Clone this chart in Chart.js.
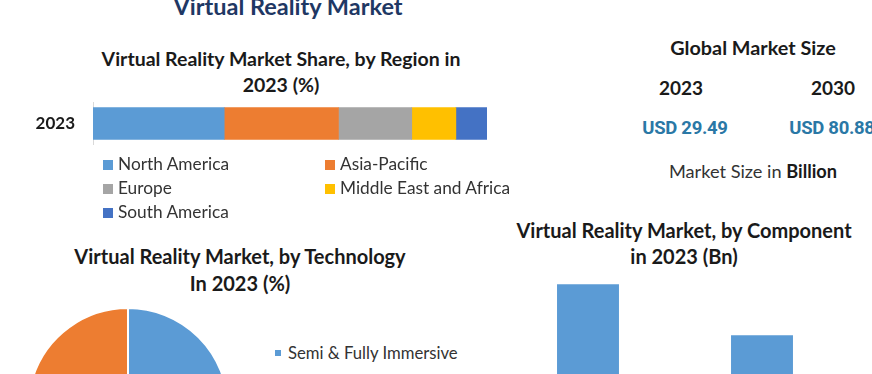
<!DOCTYPE html>
<html>
<head>
<meta charset="utf-8">
<script src="https://cdn.jsdelivr.net/npm/chart.js@4/dist/chart.umd.min.js"></script>
<style>
  html, body { margin: 0; padding: 0; background: #fff; }
  #page { position: relative; width: 872px; height: 374px; overflow: hidden; background: #fff; font-family: Lato, "Open Sans", sans-serif; color: #1a1a1a; }
  .abs { position: absolute; }
  .t { position: absolute; white-space: nowrap; text-align: center; font-weight: bold; }
  .leg { position: absolute; white-space: nowrap; font-size: 17.3px; color: #333; }
  .leg .sw { display: inline-block; width: 10px; height: 10px; margin-right: 5px; }
  .usd { position: absolute; white-space: nowrap; font-family: "Liberation Sans Narrow", "Roboto", sans-serif; font-weight: bold; color: #2a78a6; font-size: 18.5px; letter-spacing: -0.3px; }
</style>
</head>
<body>
<div id="page">
  <div class="t" id="mainTitle" style="left:0; width:576px; top:-8px; font-size:23.5px; color:#1f3864;"></div>
  <div class="t" style="left:81px; width:400px; top:46px; font-size:19.5px; line-height:26px;" id="regionTitle"></div>

  <canvas id="regionChart" class="abs" width="487" height="83" style="left:0; top:82px; width:487px; height:83px;"></canvas>
  <div id="regionLegend"></div>

  <div class="t" style="left:603px; width:300px; top:35px; font-size:19.8px;" id="gmsTitle"></div>
  <div id="gmsYears"></div>
  <div class="abs" style="left:603px; width:300px; top:160px; text-align:center; font-size:18.2px; white-space:nowrap; color:#333;">Market Size in <b style="color:#1a1a1a">Billion</b></div>

  <div class="t" style="left:40px; width:400px; top:243px; font-size:20px; line-height:27px;" id="techTitle"></div>
  <canvas id="techChart" class="abs" width="202" height="202" style="left:27px; top:307px; width:202px; height:202px;"></canvas>
  <div id="techLegend"></div>

  <div class="t" style="left:484px; width:400px; top:217px; font-size:20px; line-height:26px;" id="compTitle"></div>
  <canvas id="compChart" class="abs" width="348" height="167" style="left:501px; top:266px; width:348px; height:167px;"></canvas>
</div>
<script>
// ---------- data ----------
const regionYears = ['2023'];
const regionNames = ['North America', 'Asia-Pacific', 'Europe', 'Middle East and Africa', 'South America'];
const regionShares = [33.3, 29.0, 18.6, 11.2, 7.9];
const regionColors = ['#5b9bd5', '#ed7d31', '#a5a5a5', '#ffc000', '#4472c4'];

const marketYears = ['2023', '2030'];
const marketSizes = ['USD 29.49', 'USD 80.88'];

const techNames = ['Semi & Fully Immersive', 'Non-Immersive'];
const techShares = [60, 40];
const techColors = ['#5b9bd5', '#ed7d31'];

const compNames = ['Hardware', 'Software'];
const compValues = [17.8, 11.7];

// ---------- text ----------
document.getElementById('mainTitle').textContent = 'Virtual Reality Market';
document.getElementById('regionTitle').innerHTML = 'Virtual Reality Market Share, by Region in<br>2023 (%)';
document.getElementById('gmsTitle').textContent = 'Global Market Size';
document.getElementById('techTitle').innerHTML = 'Virtual Reality Market, by Technology<br>In 2023 (%)';
document.getElementById('compTitle').innerHTML = 'Virtual Reality Market, by Component<br>in 2023 (Bn)';

const page = document.getElementById('page');
const yearX = [681, 833];
const usdX = [685, 832];
marketYears.forEach((y, i) => {
  const d = document.createElement('div');
  d.className = 't'; d.style.left = (yearX[i] - 50) + 'px'; d.style.width = '100px';
  d.style.top = '76px'; d.style.fontSize = '19px'; d.textContent = y;
  page.appendChild(d);
  const u = document.createElement('div');
  u.className = 'usd'; u.style.left = (usdX[i] - 60) + 'px'; u.style.width = '120px'; u.style.textAlign = 'center';
  u.style.top = '117px'; u.textContent = marketSizes[i];
  page.appendChild(u);
});

// region legend (two columns)
const legPos = [[103, 153], [325, 153], [103, 177], [325, 177], [103, 201]];
regionNames.forEach((n, i) => {
  const d = document.createElement('div');
  d.className = 'leg';
  d.style.left = legPos[i][0] + 'px'; d.style.top = legPos[i][1] + 'px';
  d.innerHTML = '<span class="sw" style="background:' + regionColors[i] + '"></span>' + n;
  page.appendChild(d);
});
// tech legend
techNames.forEach((n, i) => {
  const d = document.createElement('div');
  d.className = 'leg';
  d.style.left = '275px'; d.style.top = (343 + 33 * i) + 'px'; d.style.fontSize = '16.7px';
  d.innerHTML = '<span class="sw" style="width:6px;height:6px;background:' + techColors[i] + ';vertical-align:3px;margin-right:7px"></span>' + n;
  page.appendChild(d);
});

// ---------- charts ----------
Chart.defaults.font.family = 'Lato, "Open Sans", sans-serif';
Chart.defaults.animation = false;

new Chart(document.getElementById('regionChart'), {
  type: 'bar',
  data: {
    labels: regionYears,
    datasets: regionNames.map((n, i) => ({
      label: n, data: [regionShares[i]], backgroundColor: regionColors[i],
      barThickness: 32, borderWidth: 0
    }))
  },
  options: {
    indexAxis: 'y', responsive: false, maintainAspectRatio: false,
    layout: { padding: 0 },
    plugins: { legend: { display: false }, tooltip: { enabled: false } },
    scales: {
      x: { stacked: true, min: 0, max: 100, display: false },
      y: {
        stacked: true,
        grid: { display: false },
        border: { display: true, color: '#d9d9d9', width: 1 },
        ticks: { color: '#1a1a1a', font: { size: 17, weight: 'bold' }, padding: 10 },
        afterFit: (s) => { s.width = 93; }
      }
    }
  }
});

new Chart(document.getElementById('techChart'), {
  type: 'pie',
  data: { labels: techNames, datasets: [{ data: techShares, backgroundColor: techColors, borderColor: '#fff', borderWidth: 2 }] },
  options: {
    responsive: false, maintainAspectRatio: false,
    layout: { padding: 0 },
    plugins: { legend: { display: false }, tooltip: { enabled: false } }
  }
});

new Chart(document.getElementById('compChart'), {
  type: 'bar',
  data: { labels: compNames, datasets: [{ data: compValues, backgroundColor: '#5b9bd5', barPercentage: 0.356, categoryPercentage: 1 }] },
  options: {
    responsive: false, maintainAspectRatio: false,
    layout: { padding: 0 },
    plugins: { legend: { display: false }, tooltip: { enabled: false } },
    scales: { x: { display: false }, y: { display: false, min: 0, max: 20 } }
  }
});
</script>
</body>
</html>
